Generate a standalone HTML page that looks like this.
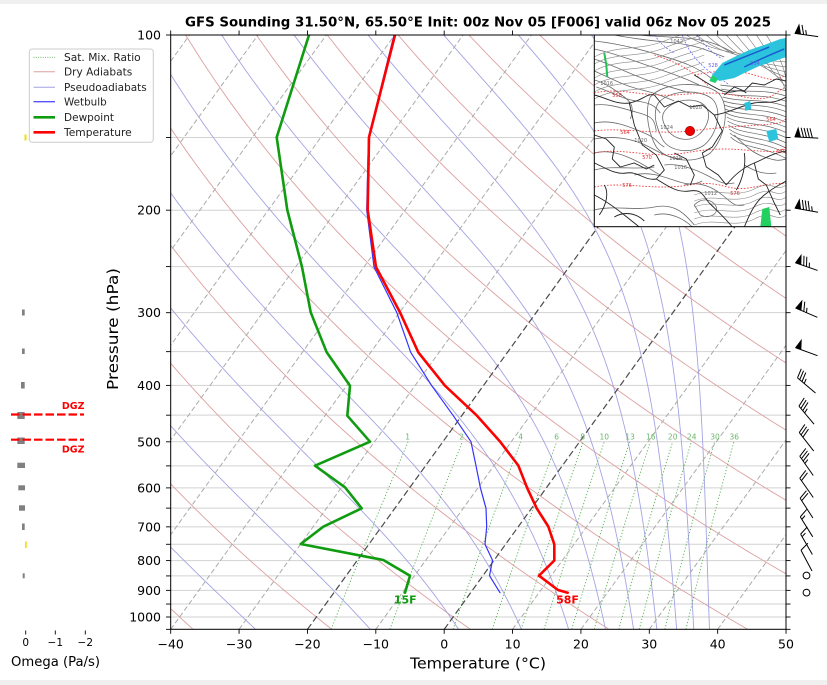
<!DOCTYPE html>
<html><head><meta charset="utf-8">
<style>
html,body{margin:0;padding:0;background:#f0f0f0;}
svg{display:block;}
text{font-family:"DejaVu Sans","Liberation Sans",sans-serif;}
</style></head><body>
<svg id="s" width="827" height="685" viewBox="0 0 827 685" xmlns="http://www.w3.org/2000/svg">
<rect x="0" y="4" width="827" height="676" fill="#ffffff"/>
<defs>
<clipPath id="pc"><rect x="170.7" y="35" width="615.3" height="594.3"/></clipPath>
<clipPath id="mc"><rect x="0" y="0" width="191.7" height="191.7"/></clipPath>
</defs>

<!-- title -->
<text x="478" y="26.3" font-size="13" font-weight="bold" text-anchor="middle" textLength="586" lengthAdjust="spacingAndGlyphs">GFS Sounding 31.50°N, 65.50°E Init: 00z Nov 05 [F006] valid 06z Nov 05 2025</text>

<!-- background lines drawn by script -->
<g id="bg" clip-path="url(#pc)"></g>

<!-- mixing ratio labels -->
<g font-size="7.5" fill="#6cb86c" text-anchor="middle">
<text x="407.7" y="439.5">1</text><text x="461.7" y="439.5">2</text><text x="520.7" y="439.5">4</text>
<text x="556.7" y="439.5">6</text><text x="582.7" y="439.5">8</text><text x="604.3" y="439.5">10</text>
<text x="630" y="439.5">13</text><text x="650.7" y="439.5">16</text><text x="672.7" y="439.5">20</text>
<text x="691.7" y="439.5">24</text><text x="715" y="439.5">30</text><text x="734.3" y="439.5">36</text>
</g>

<!-- profiles -->
<g clip-path="url(#pc)" fill="none" stroke-linejoin="round" stroke-linecap="round">
<polyline stroke="#3333ff" stroke-width="1.2" points="394,35 368.5,137.3 366.7,210 374,267 396.7,312.3 410.7,352.3 431.7,385.7 453.3,415.7 471,441.7 476,465.7 480.5,488.3 486,508.3 486.7,526.7 485,544.3 492.5,560.3 489.5,575.7 500,592.7"/>
<polyline stroke="#109c10" stroke-width="2.6" points="309,35 276.7,137.3 287.3,210 302,267 310.7,312.3 326.7,352.3 350,385.7 347.3,415.7 370,441.7 315,465.7 345,487.3 361.7,508.3 323.3,526.7 300.7,544 383.3,560 410,575.7 405,592.7"/>
<polyline stroke="#ff0000" stroke-width="2.6" points="395,35 369,137.3 367.7,210 376,267 400,312.3 418.3,352.3 445,385.7 477,415.7 500,441.5 518.3,465.5 527.3,488.3 536.7,508.3 548.3,526.5 554.3,544.3 554.3,560.5 539,575.7 558,590 567.7,592.7"/>
</g>
<text x="405.3" y="603.5" font-size="11" font-weight="bold" fill="#109c10" text-anchor="middle">15F</text>
<text x="567.5" y="603.5" font-size="11" font-weight="bold" fill="#ff0000" text-anchor="middle">58F</text>

<!-- inset map -->
<g transform="translate(594.3,35)">
<g clip-path="url(#mc)">
<rect x="0" y="0" width="191.7" height="191.7" fill="#ffffff"/>
<g fill="none" stroke="#6a6a6a" stroke-width="0.8">
<path d="M0,6 C20,8 45,14 65,20 S100,30 118,44"/>
<path d="M0,14 C20,18 40,26 58,32 S88,42 105,50"/>
<path d="M0,24 C18,30 34,38 50,44 S78,52 95,58"/>
<path d="M0,36 C14,42 28,50 44,54 S66,60 80,66"/>
<path d="M20,0 C40,4 60,6 80,8 S110,14 130,22"/>
<path d="M45,0 C65,2 85,2 100,4 S125,10 140,18"/>
<path d="M2,52 C15,56 28,64 42,66 S60,70 66,78"/>
<path d="M0,70 C15,68 30,74 45,78 S60,86 62,96"/>
<path d="M0,88 C18,84 36,92 50,98 S62,108 70,112"/>
<path d="M0,104 C20,100 40,104 55,112 S72,122 88,124"/>
<path d="M72,74 C82,64 100,62 110,70 C118,78 114,92 104,100 C94,108 80,104 74,96 C68,88 66,80 72,74Z"/>
<path d="M64,68 C76,54 106,54 118,64 C128,74 124,98 110,110 C96,120 74,116 68,104 C62,92 58,78 64,68Z"/>
<path d="M56,62 C70,46 110,46 124,58 C136,70 132,102 116,118 C100,130 72,126 62,112 C54,98 50,76 56,62Z"/>
<path d="M70,130 C85,128 100,134 112,140 S128,150 140,148"/>
<path d="M90,150 C105,146 118,152 128,160 S140,172 150,170"/>
<path d="M0,135 C20,130 40,135 60,132"/>
<path d="M100,170 C108,162 118,164 122,172 C124,180 114,184 106,180Z"/>
<path d="M0,45 C12,48 22,56 30,62 S40,74 36,84"/>
<path d="M0,118 C15,114 30,120 42,126 S58,136 66,140"/>
<path d="M40,140 C55,136 70,142 82,146 S100,150 108,146"/>
<path d="M0,175 C20,170 40,176 60,172 S90,178 100,190"/>
<path d="M60,180 C75,176 90,184 98,192"/>
<path d="M140,100 C150,110 158,118 170,122 S185,126 192,124"/>
<path d="M150,130 C160,136 170,140 182,138"/>
</g>
<g id="mapdyn"></g>
<g fill="none" stroke="#f04040" stroke-width="0.9" stroke-dasharray="1.6,1.6">
<path d="M0,58 C25,52 50,62 80,60 S120,56 150,62 S180,56 192,52"/>
<path d="M0,96 C30,92 60,100 95,96 S135,92 165,90 S185,86 192,84"/>
<path d="M0,118 C30,112 55,124 90,118 S135,114 165,116 S185,114 192,112"/>
<path d="M0,152 C30,146 60,156 95,150 S130,158 160,152 S185,150 192,148"/>
<path d="M100,40 C120,36 140,34 160,40 S180,46 192,40"/>
<path d="M60,20 C80,26 100,36 115,52"/>
</g>
<g fill="none" stroke="#7070ff" stroke-width="0.8" stroke-dasharray="2,1.5">
<path d="M88,0 C92,12 100,24 112,34 S128,44 135,50"/>
<path d="M102,0 C110,10 118,18 128,24"/>
<path d="M60,0 C66,8 72,14 80,18"/>
</g>
<g fill="none" stroke="#222" stroke-width="0.9">
<path d="M0,128 C10,132 20,140 32,138 S50,146 62,144"/>
<path d="M62,144 C72,150 82,158 95,156 S108,160 115,168"/>
<path d="M115,168 C122,175 130,182 138,192"/>
<path d="M150,192 C155,180 160,168 170,160 S185,150 192,146"/>
<path d="M60,60 L70,72 L84,66 L96,72 L108,70 L120,80 L128,96 L118,112 L108,118 L112,132 L124,140 L132,150"/>
<path d="M0,60 C10,62 22,70 35,68 S52,58 60,60"/>
<path d="M35,68 L40,90 L48,110 L62,120 L70,135 L62,144"/>
<path d="M120,80 C135,78 148,70 160,68 S178,70 192,62"/>
<path d="M132,150 C140,140 150,132 160,128 S178,118 192,116"/>
<path d="M150,118 C152,130 148,145 142,155"/>
<path d="M0,160 C10,165 20,172 30,180 S40,188 45,192"/>
<path d="M10,150 C15,158 12,170 5,180"/>
<path d="M100,40 C110,46 118,52 128,56 S145,52 152,58"/>
<path d="M0,100 L12,104 L20,112 L18,124 L26,132"/>
<path d="M26,132 L40,128 L52,134 L60,130"/>
<path d="M80,118 L92,124 L100,140 L96,150"/>
<path d="M160,128 L164,144 L172,150 L180,168 L186,180"/>
<path d="M130,60 L140,52 L150,56 L158,48 L170,50 L182,44 L192,46"/>
<path d="M20,182 C30,176 42,178 50,186"/>
</g>
<polygon fill="#2cc4dc" points="118,40 128,28 140,22 155,15 170,10 186,4 192,3 192,22 180,26 165,31 150,38 140,43 125,46"/>
<path d="M130,30 C145,24 160,18 175,12 M150,32 C162,26 175,20 190,14" stroke="#1a5fd0" stroke-width="1.5" fill="none"/>
<polygon fill="#22d070" points="118,40 124,44 121,48 115,46"/>
<polygon fill="#2cc4dc" points="150,68 156,66 157,74 151,76"/>
<polygon fill="#2cc4dc" points="172,96 182,94 184,104 175,107"/>
<path d="M10,18 L12,30 L13,42" stroke="#22c055" stroke-width="2" fill="none"/>
<polygon fill="#22d060" points="168,174 175,172 177,192 166,192"/>
<g font-size="5" fill="#666">
<text x="76" y="8">1042</text><text x="6" y="50">1016</text><text x="95" y="74">1028</text>
<text x="66" y="94">1024</text><text x="40" y="107">1020</text><text x="75" y="125">1018</text>
<text x="80" y="134">1016</text><text x="110" y="160">1012</text>
</g>
<g font-size="5" fill="#e03030">
<text x="18" y="62">558</text><text x="26" y="99">564</text><text x="48" y="124">570</text>
<text x="28" y="152">576</text><text x="136" y="160">576</text><text x="172" y="86">564</text><text x="182" y="118">570</text>
</g>
<g font-size="5" fill="#6060ee"><text x="114" y="32">528</text><text x="156" y="30">534</text></g>
<circle cx="95.7" cy="96" r="4.7" fill="#ee0000" stroke="#990000" stroke-width="0.6"/>
</g>
<rect x="0" y="0" width="191.7" height="191.7" fill="none" stroke="#000" stroke-width="1"/>
</g>

<!-- axes -->
<rect x="170.7" y="35" width="615.3" height="594.3" fill="none" stroke="#000" stroke-width="1"/>
<g id="ticks" stroke="#000" stroke-width="0.9"></g>
<g font-size="12.5" text-anchor="end">
<text x="161" y="39.5">100</text><text x="161" y="214.7">200</text><text x="161" y="317.2">300</text>
<text x="161" y="389.9">400</text><text x="161" y="446.3">500</text><text x="161" y="492.4">600</text>
<text x="161" y="531.3">700</text><text x="161" y="565.1">800</text><text x="161" y="594.9">900</text>
<text x="161" y="621.5">1000</text>
</g>
<g font-size="12.5" text-anchor="middle">
<text x="170.7" y="648.3">−40</text><text x="239.1" y="648.3">−30</text><text x="307.4" y="648.3">−20</text>
<text x="375.8" y="648.3">−10</text><text x="444.2" y="648.3">0</text><text x="512.6" y="648.3">10</text>
<text x="580.9" y="648.3">20</text><text x="649.3" y="648.3">30</text><text x="717.7" y="648.3">40</text>
<text x="786" y="648.3">50</text>
</g>
<text x="478" y="668.5" font-size="15" text-anchor="middle" textLength="136" lengthAdjust="spacingAndGlyphs">Temperature (°C)</text>
<text transform="translate(118,329) rotate(-90)" font-size="15" text-anchor="middle" textLength="122" lengthAdjust="spacingAndGlyphs">Pressure (hPa)</text>

<!-- legend -->
<rect x="29.3" y="49" width="124" height="93.3" rx="3" fill="#fff" fill-opacity="0.85" stroke="#cccccc" stroke-width="1"/>
<g fill="none">
<line x1="33.5" y1="57.3" x2="55" y2="57.3" stroke="#5aaa5a" stroke-width="0.9" stroke-dasharray="1,1.3"/>
<line x1="33.5" y1="71.7" x2="55" y2="71.7" stroke="#dda0a0" stroke-width="1"/>
<line x1="33.5" y1="87.3" x2="55" y2="87.3" stroke="#a4a4e4" stroke-width="1"/>
<line x1="33.5" y1="101.7" x2="55" y2="101.7" stroke="#5555ff" stroke-width="1.4"/>
<line x1="33.5" y1="117.3" x2="55" y2="117.3" stroke="#109c10" stroke-width="2.6"/>
<line x1="33.5" y1="132.3" x2="55" y2="132.3" stroke="#ff0000" stroke-width="2.6"/>
</g>
<g font-size="10.6" fill="#222">
<text x="64" y="61" textLength="76.7" lengthAdjust="spacingAndGlyphs">Sat. Mix. Ratio</text>
<text x="64" y="75.4" textLength="68.3" lengthAdjust="spacingAndGlyphs">Dry Adiabats</text>
<text x="64" y="91" textLength="82.7" lengthAdjust="spacingAndGlyphs">Pseudoadiabats</text>
<text x="64" y="105.4" textLength="42.7" lengthAdjust="spacingAndGlyphs">Wetbulb</text>
<text x="64" y="121" textLength="50" lengthAdjust="spacingAndGlyphs">Dewpoint</text>
<text x="64" y="136" textLength="67.7" lengthAdjust="spacingAndGlyphs">Temperature</text>
</g>

<!-- omega panel -->
<g fill="#808080">
<rect x="22" y="309.5" width="2.7" height="6"/>
<rect x="22" y="348.5" width="2.7" height="5.5"/>
<rect x="21" y="382" width="3.7" height="6.5"/>
<rect x="17.3" y="412" width="7.4" height="7"/>
<rect x="17.3" y="437.5" width="7.4" height="6.5"/>
<rect x="17.3" y="462.7" width="7.7" height="5.3"/>
<rect x="18.3" y="485.3" width="6.7" height="5"/>
<rect x="19" y="505.3" width="6" height="5.4"/>
<rect x="22" y="523.5" width="2.7" height="6.5"/>
<rect x="22.7" y="573.3" width="2" height="5"/>
</g>
<g fill="#f2e000">
<rect x="24.5" y="134.5" width="2" height="6"/>
<rect x="25" y="541.5" width="1.7" height="6.5"/>
</g>
<g stroke="#ff0000" stroke-width="2.2" stroke-dasharray="8.5,3">
<line x1="11" y1="414.5" x2="84" y2="414.5"/>
<line x1="11" y1="439.7" x2="84" y2="439.7"/>
</g>
<g font-size="9.5" font-weight="bold" fill="#ff0000" text-anchor="end">
<text x="84.5" y="409">DGZ</text><text x="84.5" y="452.3">DGZ</text>
</g>
<g stroke="#000" stroke-width="0.9">
<line x1="25.7" y1="630.5" x2="25.7" y2="634.5"/>
<line x1="55.3" y1="630.5" x2="55.3" y2="634.5"/>
<line x1="85.3" y1="630.5" x2="85.3" y2="634.5"/>
</g>
<g font-size="10.5" text-anchor="middle">
<text x="25.7" y="646">0</text><text x="55.3" y="646">−1</text><text x="85.3" y="646">−2</text>
</g>
<text x="55.5" y="666" font-size="13" text-anchor="middle" textLength="89" lengthAdjust="spacingAndGlyphs">Omega (Pa/s)</text>

<!-- barbs -->
<g id="barbs"></g>
</svg>
<script>
(function(){
const NS="http://www.w3.org/2000/svg";
function Y(p){return 35+582*Math.log10(p/100);}
const YB=Y(1050);
function X(t,p){return 444.2+6.837*t+0.722*(YB-Y(p));}
const bg=document.getElementById('bg');
function el(tag,a,par){const e=document.createElementNS(NS,tag);for(const k in a)e.setAttribute(k,a[k]);(par||bg).appendChild(e);return e;}
function pl(pts,a,par){a.points=pts.map(q=>q[0].toFixed(2)+','+q[1].toFixed(2)).join(' ');a.fill='none';return el('polyline',a,par);}
const L=170.7,R=786;
for(let p=100;p<=1050;p+=50){el('line',{x1:L,x2:R,y1:Y(p),y2:Y(p),stroke:'#d2d2d2','stroke-width':1});}
for(let th=-40;th<=220;th+=20){const pts=[];for(let p=1050;p>=100;p-=10){const t=(th+273.15)*Math.pow(p/1000,0.2857)-273.15;pts.push([X(t,p),Y(p)]);}pl(pts,{stroke:'#dda0a0','stroke-width':0.9});}
function es(tc){return 6.112*Math.exp(17.67*tc/(tc+243.5));}
function dTdp(p,T){const Rd=287.04,Cp=1004.6,Lv=2.501e6,eps=0.622;const e=es(T-273.15);const rs=eps*e/Math.max(p-e,1);return (1/p)*(Rd*T+Lv*rs)/(Cp+(Lv*Lv*rs*eps)/(Rd*T*T));}
const starts=[-27.6,-10.8,2.1,11.3,18.2,23.6,27.7,31.1,34.0,36.5,38.8];
for(const t0 of starts){let T=t0+273.15,p=1050;const pts=[[X(t0,p),Y(p)]];const h=-5;
 while(p>100.1){const k1=dTdp(p,T),k2=dTdp(p+h/2,T+h/2*k1),k3=dTdp(p+h/2,T+h/2*k2),k4=dTdp(p+h,T+h*k3);T+=h/6*(k1+2*k2+2*k3+k4);p+=h;pts.push([X(T-273.15,p),Y(p)]);}
 pl(pts,{stroke:'#a4a4e4','stroke-width':0.9});}
const ws=[1,2,4,6,8,10,13,16,20,24,30,36];
for(const w of ws){const pts=[];for(let p=1050;p>=500;p-=10){const e=p*w/(622+w);const l=Math.log(e/6.112);const td=243.5*l/(17.67-l);pts.push([X(td,p),Y(p)]);}
 pl(pts,{stroke:'#4fae4f','stroke-width':0.9,'stroke-dasharray':'1.2,2'});}
for(let t=-160;t<=50;t+=10){const hl=(t===0||t===-20);
 el('line',{x1:X(t,1050),y1:Y(1050),x2:X(t,100),y2:Y(100),stroke:hl?'#4a4a4a':'#ababab','stroke-width':hl?1.2:1,'stroke-dasharray':hl?'6.5,3.2':'5,2.7'});}
const tk=document.getElementById('ticks');
for(let p=100;p<=1050;p+=50){const y=Y(p);el('line',{x1:166,x2:170.7,y1:y,y2:y},tk);el('line',{x1:786,x2:790.5,y1:y,y2:y},tk);}
for(let k=0;k<=9;k++){const x=170.7+k*68.37;el('line',{x1:x,x2:x,y1:629.3,y2:633.8},tk);el('line',{x1:x,x2:x,y1:35,y2:30.5},tk);}
const md=document.getElementById('mapdyn');
for(let i=0;i<14;i++){const y0=50+i*4;el('path',{d:'M'+(126+i*0.8)+','+y0+' C148,'+(y0+4+i*0.6)+' 168,'+(y0-2+i*0.8)+' 192,'+(y0+6+i*1.2),fill:'none',stroke:'#666','stroke-width':0.7},md);}
for(let i=0;i<9;i++){el('path',{d:'M'+(92+i*10)+',0 C'+(110+i*10)+','+(12+i*2)+' '+(130+i*8)+','+(20+i*3)+' 192,'+(22+i*5),fill:'none',stroke:'#777','stroke-width':0.6},md);}
for(let i=0;i<7;i++){const y0=2+i*7;el('path',{d:'M0,'+(y0+20)+' C20,'+(y0+8)+' 45,'+(y0+14)+' 70,'+(y0+4)+' S95,'+(y0-4)+' 110,'+(y0-10),fill:'none',stroke:'#888','stroke-width':0.6},md);}
for(let i=0;i<6;i++){const y0=160+i*6;el('path',{d:'M100,'+y0+' C120,'+(y0-8)+' 140,'+(y0+4)+' 160,'+(y0-6)+' S180,'+(y0-2)+' 192,'+(y0-10),fill:'none',stroke:'#888','stroke-width':0.6},md);}
const bb=document.getElementById('barbs');
function barb(cx,cy,ang,spd){const Lb=23.5,sp=0.125*Lb,hh=0.4*Lb,w=0.25*Lb;const a=ang*Math.PI/180;const ux=-Math.cos(a),uy=-Math.sin(a);const nx=-uy,ny=ux;const bx=cx-ux*Lb/2,by=cy-uy*Lb/2;
 const P=(o,q)=>[bx+ux*o+nx*q,by+uy*o+ny*q];
 let d='M'+P(0,0).join(',')+'L'+P(Lb,0).join(',');
 let off=Lb;const n50=Math.floor(spd/50);let r=spd-50*n50;const n10=Math.floor(r/10);const half=(r-10*n10)>=5;
 for(let i=0;i<n50;i++){if(off!==Lb)off+=sp/2;const A=P(off,0),B=P(off-w/2,hh),C=P(off-w,0);el('polygon',{points:A.join(',')+' '+B.join(',')+' '+C.join(','),fill:'#000',stroke:'#000','stroke-width':0.6},bb);off-=w+sp;}
 for(let i=0;i<n10;i++){d+='M'+P(off,0).join(',')+'L'+P(off+w/2,hh).join(',');off-=sp;}
 if(half){if(off===Lb)off-=1.5*sp;d+='M'+P(off,0).join(',')+'L'+P(off+w/4,hh/2).join(',');}
 el('path',{d:d,fill:'none',stroke:'#000','stroke-width':1},bb);}
const bl=[[100,8,65],[150,3,90],[200,10,85],[250,19,75],[300,23,65],[350,20,50],[400,40,35],[450,50,35],[500,52,30],[550,55,35],[600,55,20],[650,57,20],[700,58,15],[750,60,15],[800,62,10]];
for(const b of bl){barb(806.5,Y(b[0]),b[1],b[2]);}
el('circle',{cx:806.5,cy:575.5,r:3.4,fill:'none',stroke:'#000','stroke-width':1},bb);
el('circle',{cx:806.5,cy:592.6,r:3.4,fill:'none',stroke:'#000','stroke-width':1},bb);
})();
</script>
</body></html>
